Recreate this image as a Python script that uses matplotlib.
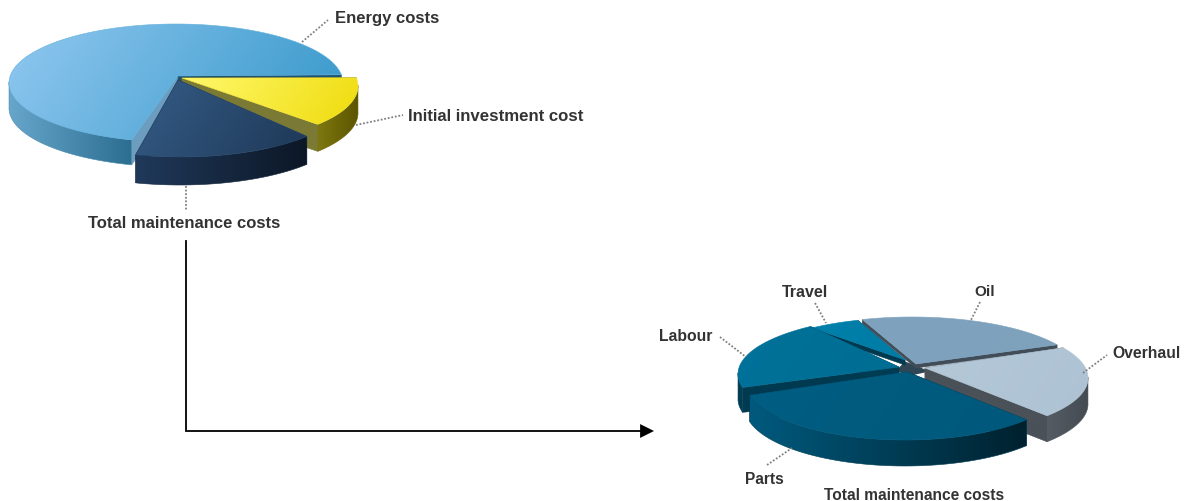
import numpy as np
import matplotlib
matplotlib.use("Agg")
import matplotlib.pyplot as plt
from matplotlib.patches import Polygon
from matplotlib.colors import to_rgb

plt.rcParams['font.family'] = ['Liberation Sans', 'DejaVu Sans']

# ---- data
main_labels = ["Initial investment cost", "Total maintenance costs", "Energy costs"]
main_values = [13.5, 18, 68.5]
detail_labels = ["Oil", "Overhaul", "Parts", "Labour", "Travel"]
detail_values = [21, 20, 35, 19, 5]

# ---- styles: top (start, end), wall (start, end), radial faces (first edge, last edge)
main_styles = [
    dict(top=("#fff96e", "#efdb0c"), wall=("#7d7810", "#5c5400"), faces=("#55531f", "#7b7a35")),
    dict(top=("#355c86", "#1e3857"), wall=("#20395a", "#0c1726"), faces=("#1d3552", "#142640")),
    dict(top=("#90c8f0", "#3597c9"), wall=("#68a6cc", "#2b6e90"), faces=("#6c9dbf", "#1d5570")),
]
detail_styles = [
    dict(top=("#7ea3bf", "#7fa2bc"), wall=("#3f4a55", "#3f4a55"), faces=("#414d58", "#414d58")),
    dict(top=("#b4c8d8", "#adc2d3"), wall=("#555c63", "#444b52"), faces=("#4a5158", "#4a5158")),
    dict(top=("#005d82", "#00597c"), wall=("#005a7e", "#00212e"), faces=("#00212e", "#003a50")),
    dict(top=("#00729a", "#006d92"), wall=("#003f57", "#003a50"), faces=("#003a50", "#003c53")),
    dict(top=("#0080ab", "#007ca5"), wall=("#003a50", "#003a50"), faces=("#003a50", "#003a50")),
]

fig = plt.figure(figsize=(11.85, 5.01), dpi=100, facecolor="white")
ax = fig.add_axes([0, 0, 1, 1])
ax.set_axis_off()
z = [1]


def fill_gradient(verts, c0, c1, direction):
    verts = np.asarray(verts)
    x0, y0 = verts.min(axis=0)
    x1, y1 = verts.max(axis=0)
    xs, ys = np.meshgrid(np.linspace(0, 1, 200), np.linspace(0, 1, 200))
    d = np.asarray(direction, float)
    w = (xs * (x1 - x0) * d[0] + ys * (y1 - y0) * d[1])
    w = (w - w.min()) / max(w.max() - w.min(), 1e-9)
    rgb = np.array(to_rgb(c0))[None, None] * (1 - w[..., None]) + np.array(to_rgb(c1))[None, None] * w[..., None]
    im = ax.imshow(rgb, extent=(x0, x1, y1, y0), origin="upper", aspect="auto",
                   interpolation="bilinear", zorder=z[0])
    poly = Polygon(verts, closed=True, transform=ax.transData)
    im.set_clip_path(poly)
    mid = tuple((np.array(to_rgb(c0)) + np.array(to_rgb(c1))) / 2)
    ax.add_patch(Polygon(verts, closed=True, fill=False, edgecolor=mid, lw=0.4, zorder=z[0] + 0.5))
    z[0] += 1


def draw_pie(values, styles, start, center, rx, ry, depth, arc_offsets, apexes, order, scales=None):
    v = np.asarray(values, float)
    edges = start - np.concatenate([[0], np.cumsum(v)]) / v.sum() * 360
    for i in order:
        ta, tb = edges[i], edges[i + 1]
        t = np.radians(np.linspace(ta, tb, 200))
        cx = center[0] + arc_offsets[i][0]
        cy = center[1] + arc_offsets[i][1]
        sx, sy = scales[i] if scales else (1, 1)
        arc = np.column_stack([cx + rx * sx * np.cos(t), cy - ry * sy * np.sin(t)])
        apex = np.array(apexes[i], float)
        down = np.array([0, depth[i]])
        st = styles[i]
        # radial faces
        for pt, col in ((arc[0], st["faces"][0]), (arc[-1], st["faces"][1])):
            fill_gradient([apex, pt, pt + down, apex + down], col, col, (1, 0))
        # outer wall
        vis = arc[np.sin(t) <= 0.02]
        if len(vis) > 1:
            wall = np.vstack([vis, (vis + down)[::-1]])
            fill_gradient(wall, st["wall"][0], st["wall"][1], (1, 0))
        # top
        fill_gradient(np.vstack([[apex], arc]), st["top"][0], st["top"][1], (1, 0.7))


draw_pie(main_values, main_styles, start=8, center=(176, 83), rx=167, ry=59,
         depth=[27, 28, 25],
         arc_offsets=[(15, 3), (4, 15), (0, 0)],
         apexes=[(182, 78), (178, 80), (178, 76)],
         order=[2, 0, 1])

detail_apexes = [(916, 364), (925, 368), (907, 372), (899, 367), (905, 360)]
ax.add_patch(Polygon(np.array(detail_apexes) + np.array([0, 3]), closed=True,
                     facecolor="#2f4655", edgecolor="#2f4655", lw=2, zorder=0.5))
draw_pie(detail_values, detail_styles, start=107, center=(912, 375), rx=170, ry=58,
         depth=[4, 26, 26, 25, 5],
         arc_offsets=[(0, 0), (6, 3), (-7, 7), (-4, -1), (-7, -2)],
         apexes=detail_apexes,
         order=[0, 4, 3, 1, 2],
         scales=[(1, 1), (1, 1), (0.94, 1), (1, 1), (0.95, 0.95)])

# ---- leader lines
leaders = [((302, 42), (328, 20)), ((356, 125), (403, 115)), ((186, 186), (186, 210)),
           ((815, 303), (826, 323)), ((980, 302), (970, 322)), ((720, 337), (746, 357)),
           ((1083, 373), (1107, 355)), ((767, 465), (792, 448))]
for a, b in leaders:
    ax.plot([a[0], b[0]], [a[1], b[1]], color="#808080", lw=1.3, ls=(0, (1, 1)), zorder=500)

# ---- texts
texts = [("Energy costs", 335, 18.5, 12), ("Initial investment cost", 408, 116.5, 12.1),
         ("Total maintenance costs", 88, 223.5, 12), ("Travel", 782, 292.5, 11.5), ("Oil", 974, 292.5, 11),
         ("Labour", 659, 336.5, 11.3), ("Overhaul", 1112, 353.5, 11.3), ("Parts", 745, 479.5, 11.2),
         ("Total maintenance costs", 824, 495.5, 11.2)]
for s, x, y, fs in texts:
    ax.text(x, y, s, fontsize=fs, fontweight="bold", color="#333333", ha="left", va="center", zorder=600)

# ---- arrow between the pies
ax.plot([186, 186, 642], [241, 431, 431], color="black", lw=1.3, zorder=500, solid_joinstyle="miter")
ax.annotate("", xy=(654, 431), xytext=(638, 431),
            arrowprops=dict(arrowstyle="-|>,head_length=1.0,head_width=0.5", color="black", lw=0,
                            shrinkA=0, shrinkB=0), zorder=501)

ax.set_xlim(0, 1185)
ax.set_ylim(501, 0)
fig.savefig("out.png", dpi=100, facecolor="white")
